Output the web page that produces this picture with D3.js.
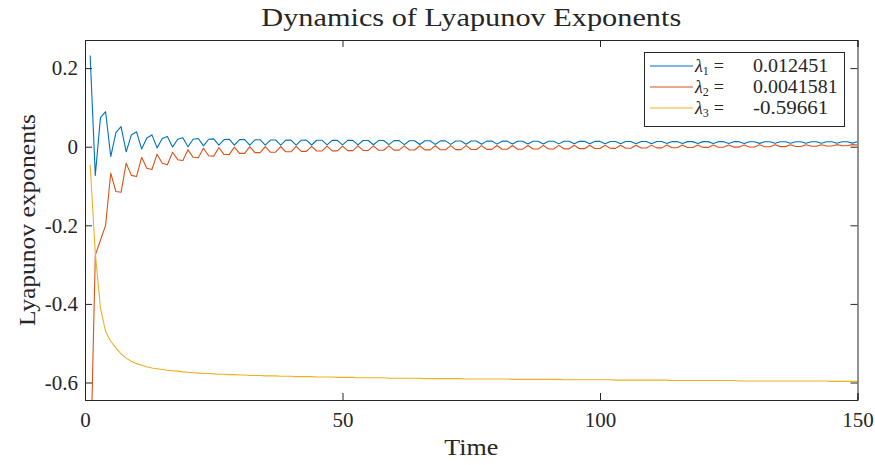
<!DOCTYPE html>
<html>
<head>
<meta charset="utf-8">
<script src="https://cdn.jsdelivr.net/npm/d3@7"></script>
<style>
  body { margin: 0; background: #fff; }
  svg text { font-family: "Liberation Serif", "DejaVu Serif", serif; fill: #262626; }
</style>
</head>
<body>
<svg id="chart" width="875" height="465"></svg>
<script>
//------------------- data ------------------
var time = [1,2,3,4,5,6,7,8,9,10,11,12,13,14,15,16,17,18,19,20,
  21,22,23,24,25,26,27,28,29,30,31,32,33,34,35,36,37,38,39,40,
  41,42,43,44,45,46,47,48,49,50,51,52,53,54,55,56,57,58,59,60,
  61,62,63,64,65,66,67,68,69,70,71,72,73,74,75,76,77,78,79,80,
  81,82,83,84,85,86,87,88,89,90,91,92,93,94,95,96,97,98,99,100,
  101,102,103,104,105,106,107,108,109,110,111,112,113,114,115,116,117,118,119,120,
  121,122,123,124,125,126,127,128,129,130,131,132,133,134,135,136,137,138,139,140,
  141,142,143,144,145,146,147,148,149,150];

var lambda1 = [0.232,-0.073,0.074,0.089,-0.025,0.036,0.051,-0.013,0.030,0.038,
  -0.006,0.022,0.030,-0.003,0.021,0.026,-0.001,0.019,0.023,0.000,
  0.019,0.021,0.002,0.019,0.020,0.004,0.018,0.019,0.004,0.018,
  0.018,0.004,0.0175,0.0178,0.004,0.017,0.0172,0.004,0.0168,0.017,
  0.0042,0.0166,0.0167,0.0043,0.0164,0.0165,0.0045,0.0162,0.0163,0.0046,
  0.016,0.0161,0.0048,0.0158,0.0159,0.005,0.0156,0.0157,0.0052,0.0154,
  0.0155,0.0054,0.0152,0.0153,0.0056,0.015,0.0151,0.0058,0.0148,0.0149,
  0.006,0.0146,0.0147,0.0062,0.0144,0.0145,0.0064,0.0142,0.0143,0.0066,
  0.0141,0.0141,0.0068,0.014,0.014,0.007,0.0139,0.0139,0.0071,0.0138,
  0.0138,0.0072,0.0137,0.0137,0.0073,0.0136,0.0136,0.0074,0.0135,0.0135,
  0.0075,0.0134,0.0134,0.0076,0.0133,0.0133,0.0077,0.0132,0.0132,0.0078,
  0.0131,0.0131,0.0079,0.013,0.013,0.008,0.0129,0.0129,0.0081,0.0129,
  0.0129,0.0082,0.0128,0.0128,0.0083,0.0128,0.0128,0.0084,0.0127,0.0127,
  0.0085,0.0127,0.0127,0.0086,0.0126,0.0126,0.0087,0.0126,0.0126,0.0088,
  0.0125,0.0125,0.0089,0.0125,0.0125,0.009,0.0125,0.0125,0.0091,0.012451];

var lambda2 = [-0.85,-0.276,-0.238,-0.200,-0.067,-0.114,-0.116,-0.042,-0.073,-0.076,
  -0.027,-0.055,-0.058,-0.019,-0.042,-0.046,-0.014,-0.033,-0.035,-0.008,
  -0.027,-0.028,-0.004,-0.023,-0.024,-0.002,-0.020,-0.020,-0.001,-0.017,
  -0.017,0.000,-0.015,-0.015,0.000,-0.014,-0.014,0.0005,-0.013,-0.013,
  0.001,-0.012,-0.012,0.001,-0.011,-0.011,0.0015,-0.0105,-0.0105,0.0015,
  -0.010,-0.010,0.002,-0.0095,-0.0095,0.002,-0.009,-0.009,0.002,-0.0087,
  -0.0087,0.0022,-0.0084,-0.0084,0.0024,-0.0081,-0.0081,0.0025,-0.0078,-0.0078,
  0.0026,-0.0075,-0.0075,0.0027,-0.0072,-0.0072,0.0028,-0.0069,-0.0069,0.003,
  -0.0066,-0.0066,0.0031,-0.0063,-0.0063,0.0032,-0.006,-0.006,0.0033,-0.0057,
  -0.0057,0.0034,-0.0054,-0.0054,0.0035,-0.005,-0.005,0.0036,-0.0046,-0.0046,
  0.0037,-0.0042,-0.0042,0.0038,-0.0038,-0.0038,0.0039,-0.0034,-0.0034,0.004,
  -0.003,-0.003,0.0041,-0.0026,-0.0026,0.0042,-0.0022,-0.0022,0.0043,-0.0018,
  -0.0018,0.0044,-0.0014,-0.0014,0.0045,-0.001,-0.001,0.0046,-0.0006,-0.0006,
  0.0047,-0.0002,-0.0002,0.0048,0.0002,0.0002,0.0049,0.0006,0.0006,0.005,
  0.001,0.001,0.0051,0.0016,0.0016,0.0052,0.0024,0.0024,0.0053,0.0041581];

var lambda3 = [-0.046,-0.271,-0.411,-0.470,-0.495,-0.512,-0.527,-0.538,-0.546,-0.552,
  -0.556,-0.560,-0.563,-0.565,-0.567,-0.569,-0.570,-0.571,-0.573,-0.574,
  -0.575,-0.576,-0.577,-0.577,-0.578,-0.579,-0.579,-0.580,-0.580,-0.581,
  -0.581,-0.582,-0.582,-0.582,-0.583,-0.583,-0.583,-0.584,-0.584,-0.584,
  -0.585,-0.585,-0.585,-0.585,-0.586,-0.586,-0.586,-0.586,-0.587,-0.587,
  -0.587,-0.587,-0.588,-0.588,-0.588,-0.588,-0.588,-0.588,-0.589,-0.589,
  -0.589,-0.589,-0.589,-0.589,-0.589,-0.590,-0.590,-0.590,-0.590,-0.590,
  -0.590,-0.590,-0.590,-0.591,-0.591,-0.591,-0.591,-0.591,-0.591,-0.591,
  -0.591,-0.591,-0.592,-0.592,-0.592,-0.592,-0.592,-0.592,-0.592,-0.592,
  -0.592,-0.592,-0.593,-0.593,-0.593,-0.593,-0.593,-0.593,-0.593,-0.593,
  -0.593,-0.593,-0.594,-0.594,-0.594,-0.594,-0.594,-0.594,-0.594,-0.594,
  -0.594,-0.594,-0.594,-0.595,-0.595,-0.595,-0.595,-0.595,-0.595,-0.595,
  -0.595,-0.595,-0.595,-0.595,-0.595,-0.595,-0.596,-0.596,-0.596,-0.596,
  -0.596,-0.596,-0.596,-0.596,-0.596,-0.596,-0.596,-0.596,-0.596,-0.596,
  -0.596,-0.596,-0.596,-0.596,-0.597,-0.597,-0.597,-0.597,-0.597,-0.59661];

var seriesNames = ["1", "2", "3"];
var seriesLabels = ["0.012451", "0.0041581", "-0.59661"];
var seriesColors = ["#0072BD", "#D95319", "#EDB120"];
var xTicks = [0, 50, 100, 150];
var yTicks = [-0.6, -0.4, -0.2, 0, 0.2];
var yTickLabels = ["-0.6", "-0.4", "-0.2", "0", "0.2"];

//------------------- layout ------------------
var margin = {left: 85, right: 17.5, top: 40, bottom: 65};
var W = 875, H = 465;
var svg = d3.select("#chart");

var yMin = -0.6445, yMax = 0.2715;
var x = d3.scaleLinear().domain([0, 150]).range([margin.left, W - margin.right]);
var y = d3.scaleLinear().domain([yMin, yMax]).range([H - margin.bottom, margin.top]);

svg.append("defs").append("clipPath").attr("id", "plotclip")
  .append("rect")
  .attr("x", x(0)).attr("y", y(yMax))
  .attr("width", x(150) - x(0)).attr("height", y(yMin) - y(yMax));

// lines
var seriesData = [lambda1, lambda2, lambda3];
var line = d3.line()
  .x(function(d, i) { return x(time[i]); })
  .y(function(d) { return y(d); });

svg.append("g").attr("clip-path", "url(#plotclip)")
  .selectAll("path").data(seriesData).enter().append("path")
  .attr("d", line)
  .attr("fill", "none")
  .attr("stroke", function(d, i) { return seriesColors[i]; })
  .attr("stroke-width", 1.1)
  .attr("stroke-linejoin", "round");

// axes (MATLAB style, ticks pointing in, box on)
var tickLen = 7;
var axisColor = "#262626";
var xb = d3.axisBottom(x).tickValues(xTicks).tickSize(-tickLen).tickPadding(12)
  .tickFormat(d3.format("d"));
var xt = d3.axisTop(x).tickValues(xTicks).tickSize(-tickLen).tickFormat("");
var yl = d3.axisLeft(y).tickValues(yTicks).tickSize(-tickLen).tickPadding(7)
  .tickFormat(function(d, i) { return yTickLabels[i]; });
var yr = d3.axisRight(y).tickValues(yTicks).tickSize(-tickLen).tickFormat("");

function styleAxis(g) {
  g.selectAll("path").attr("stroke", axisColor).attr("stroke-width", 1);
  g.selectAll("line").attr("stroke", axisColor).attr("stroke-width", 1);
  g.selectAll("text").attr("fill", axisColor)
    .style("font-family", '"Liberation Serif", serif').style("font-size", "21px");
}

svg.append("g").attr("transform", "translate(0," + y(yMin) + ")").call(xb).call(styleAxis);
svg.append("g").attr("transform", "translate(0," + y(yMax) + ")").call(xt).call(styleAxis);
svg.append("g").attr("transform", "translate(" + x(0) + ",0)").call(yl).call(styleAxis);
svg.append("g").attr("transform", "translate(" + x(150) + ",0)").call(yr).call(styleAxis);

// titles
svg.append("text")
  .attr("x", (x(0) + x(150)) / 2).attr("y", 26)
  .attr("text-anchor", "middle")
  .attr("textLength", 420).attr("lengthAdjust", "spacingAndGlyphs")
  .style("font-size", "25px")
  .text("Dynamics of Lyapunov Exponents");

svg.append("text")
  .attr("x", (x(0) + x(150)) / 2).attr("y", 455)
  .attr("text-anchor", "middle")
  .attr("textLength", 54).attr("lengthAdjust", "spacingAndGlyphs")
  .style("font-size", "24px")
  .text("Time");

svg.append("text")
  .attr("transform", "translate(35," + ((y(yMax) + y(yMin)) / 2) + ") rotate(-90)")
  .attr("text-anchor", "middle")
  .attr("textLength", 212).attr("lengthAdjust", "spacingAndGlyphs")
  .style("font-size", "24px")
  .text("Lyapunov exponents");

// legend
var lg = svg.append("g");
lg.append("rect")
  .attr("x", 644.5).attr("y", 52.5).attr("width", 200).attr("height", 74)
  .attr("fill", "#fff").attr("stroke", axisColor).attr("stroke-width", 1);

var rows = lg.selectAll("g.row").data(seriesNames).enter().append("g")
  .attr("class", "row")
  .attr("transform", function(d, i) { return "translate(0," + (66 + i * 21) + ")"; });

rows.append("line")
  .attr("x1", 650).attr("x2", 693)
  .attr("stroke", function(d, i) { return seriesColors[i]; })
  .attr("stroke-width", 1.1);

var lt = rows.append("text").attr("x", 695).attr("y", 6).style("font-size", "18px");
lt.append("tspan").style("font-style", "italic").text("λ");
lt.append("tspan").attr("dy", 3).style("font-size", "12px").text(function(d) { return d; });
lt.append("tspan").attr("dy", -3).attr("dx", 5).text("=");
rows.append("text").attr("x", 753).attr("y", 6).style("font-size", "18px")
  .attr("textLength", function(d, i) { return seriesLabels[i].length * 9.4; })
  .attr("lengthAdjust", "spacingAndGlyphs")
  .text(function(d, i) { return seriesLabels[i]; });
</script>
</body>
</html>
